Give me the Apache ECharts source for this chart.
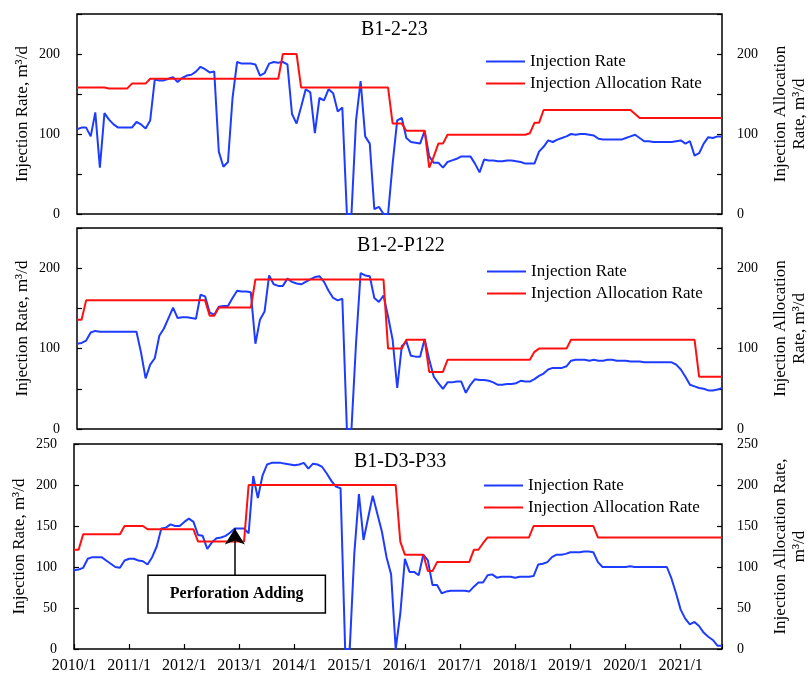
<!DOCTYPE html>
<html>
<head>
<meta charset="utf-8">
<script src="https://cdn.jsdelivr.net/npm/echarts@6/dist/echarts.min.js"></script>
<style>
html, body { margin: 0; padding: 0; background: #fff; }
#chart { width: 811px; height: 679px; }
</style>
</head>
<body>
<div id="chart"></div>
<script>
// month index 0 = 2010/1
const wellNames = ['B1-2-23', 'B1-2-P122', 'B1-D3-P33'];
const yearTicks = ['2010/1', '2011/1', '2012/1', '2013/1', '2014/1', '2015/1', '2016/1',
    '2017/1', '2018/1', '2019/1', '2020/1', '2021/1'];

// B1-2-23
const rate1 = [
    106, 108, 108, 97, 127, 58, 126, 118, 112, 108,
    108, 108, 108, 115, 112, 107, 117, 168, 167, 167,
    169, 171, 165, 170, 173, 174, 178, 184, 181, 177,
    178, 78, 59, 65, 145, 190, 188, 188, 188, 187,
    173, 176, 188, 190, 189, 190, 187, 125, 113, 134,
    156, 152, 101, 145, 142, 156, 151, 128, 133, 0,
    0, 117, 166, 97, 88, 6, 9, 0, 0, 63,
    117, 120, 95, 90, 89, 88, 104, 72, 64, 64,
    58, 65, 67, 69, 72, 72, 72, 63, 52, 68,
    67, 67, 66, 66, 67, 67, 66, 65, 63, 63,
    63, 78, 84, 92, 90, 93, 95, 97, 100, 99,
    100, 100, 99, 98, 94, 93, 93, 93, 93, 93,
    95, 97, 99, 95, 91, 91, 90, 90, 90, 90,
    90, 91, 92, 88, 91, 73, 76, 88, 96, 95,
    97, 97
];
const alloc1 = [
    158, 158, 158, 158, 158, 158, 158, 157, 157, 157,
    157, 157, 163, 163, 163, 163, 169, 169, 169, 169,
    169, 169, 169, 169, 169, 169, 169, 169, 169, 169,
    169, 169, 169, 169, 169, 169, 169, 169, 169, 169,
    169, 169, 169, 169, 169, 200, 200, 200, 200, 158,
    158, 158, 158, 158, 158, 158, 158, 158, 158, 158,
    158, 158, 158, 158, 158, 158, 158, 158, 158, 113,
    113, 113, 104, 104, 104, 104, 104, 58, 72, 88,
    88, 99, 99, 99, 99, 99, 99, 99, 99, 99,
    99, 99, 99, 99, 99, 99, 99, 99, 99, 101,
    114, 114, 130, 130, 130, 130, 130, 130, 130, 130,
    130, 130, 130, 130, 130, 130, 130, 130, 130, 130,
    130, 130, 125, 120, 120, 120, 120, 120, 120, 120,
    120, 120, 120, 120, 120, 120, 120, 120, 120, 120,
    120, 120
];

// B1-2-P122
const rate2 = [
    106, 107, 110, 120, 122, 121, 121, 121, 121, 121,
    121, 121, 121, 121, 95, 63, 80, 88, 116, 125,
    138, 151, 138, 139, 139, 138, 137, 167, 165, 145,
    142, 152, 153, 153, 163, 172, 171, 171, 170, 106,
    136, 146, 191, 180, 178, 178, 187, 183, 181, 180,
    183, 186, 189, 190, 183, 172, 163, 160, 162, 0,
    0, 107, 194, 191, 190, 163, 158, 166, 140, 111,
    51, 103, 109, 91, 90, 90, 112, 86, 65, 57,
    50, 58, 58, 59, 59, 45, 55, 62, 61, 61,
    60, 58, 55, 55, 56, 56, 57, 60, 59, 59,
    62, 66, 69, 74, 76, 76, 76, 78, 85, 86,
    86, 86, 85, 86, 85, 85, 86, 86, 85, 85,
    85, 84, 84, 84, 83, 83, 83, 83, 83, 83,
    83, 80, 74, 65, 55, 53, 51, 50, 48, 48,
    49, 51
];
const alloc2 = [
    136, 136, 160, 160, 160, 160, 160, 160, 160, 160,
    160, 160, 160, 160, 160, 160, 160, 160, 160, 160,
    160, 160, 160, 160, 160, 160, 160, 160, 160, 141,
    141, 151, 151, 151, 151, 151, 151, 151, 151, 186,
    186, 186, 186, 186, 186, 186, 186, 186, 186, 186,
    186, 186, 186, 186, 186, 186, 186, 186, 186, 186,
    186, 186, 186, 186, 186, 186, 186, 186, 100, 100,
    100, 100, 111, 111, 111, 111, 111, 71, 71, 71,
    71, 86, 86, 86, 86, 86, 86, 86, 86, 86,
    86, 86, 86, 86, 86, 86, 86, 86, 86, 86,
    96, 100, 100, 100, 100, 100, 100, 100, 111, 111,
    111, 111, 111, 111, 111, 111, 111, 111, 111, 111,
    111, 111, 111, 111, 111, 111, 111, 111, 111, 111,
    111, 111, 111, 111, 111, 111, 65, 65, 65, 65,
    65, 65
];

// B1-D3-P33
const rate3 = [
    96, 97, 99, 110, 112, 112, 112, 108, 104, 100,
    99, 108, 110, 110, 108, 107, 103, 112, 125, 147,
    148, 152, 150, 150, 155, 159, 155, 139, 138, 122,
    130, 135, 136, 138, 142, 147, 147, 147, 141, 211,
    184, 211, 225, 227, 227, 227, 226, 225, 224, 225,
    227, 220, 226, 225, 222, 214, 205, 198, 196, 0,
    0, 117, 189, 133, 160, 187, 165, 143, 112, 91,
    0, 43, 110, 94, 94, 90, 115, 108, 78, 78,
    68, 70, 71, 71, 71, 71, 70, 76, 81, 81,
    90, 91, 87, 88, 88, 88, 87, 88, 88, 88,
    89, 103, 104, 106, 112, 115, 115, 116, 118, 118,
    118, 119, 119, 118, 106, 100, 100, 100, 100, 100,
    100, 101, 100, 100, 100, 100, 100, 100, 100, 100,
    86, 68, 48, 37, 30, 33, 28, 20, 15, 11,
    4, 4
];
const alloc3 = [
    121, 121, 140, 140, 140, 140, 140, 140, 140, 140,
    140, 150, 150, 150, 150, 150, 146, 146, 146, 146,
    146, 146, 146, 146, 146, 146, 146, 131, 131, 131,
    131, 131, 131, 131, 131, 131, 131, 131, 200, 200,
    200, 200, 200, 200, 200, 200, 200, 200, 200, 200,
    200, 200, 200, 200, 200, 200, 200, 200, 200, 200,
    200, 200, 200, 200, 200, 200, 200, 200, 200, 200,
    200, 131, 115, 115, 115, 115, 115, 95, 95, 106,
    106, 106, 106, 106, 106, 106, 106, 121, 121, 129,
    136, 136, 136, 136, 136, 136, 136, 136, 136, 136,
    150, 150, 150, 150, 150, 150, 150, 150, 150, 150,
    150, 150, 150, 150, 136, 136, 136, 136, 136, 136,
    136, 136, 136, 136, 136, 136, 136, 136, 136, 136,
    136, 136, 136, 136, 136, 136, 136, 136, 136, 136,
    136, 136
];

const rateSets = [rate1, rate2, rate3];
const allocSets = [alloc1, alloc2, alloc3];
const leftNames = ['Injection Rate, m³/d', 'Injection Rate, m³/d', 'Injection Rate, m³/d'];
const rightNames = ['Injection Allocation\nRate, m³/d', 'Injection Allocation\nRate, m³/d', 'Injection Allocation Rate,\nm³/d'];

// annotation (well B1-D3-P33): box corners and arrow, in month / value units
const noteText = 'Perforation Adding';
const noteBox = [[16.1, 90], [54.7, 44]];
const noteArrow = [[35, 90], [35, 147]];

const FONT = 'Liberation Serif';
const BLUE = '#1e3cff';
const RED = '#ff1010';

const grids = [
    { left: 77, top: 14, width: 645, height: 200 },
    { left: 77, top: 228, width: 645, height: 201 },
    { left: 74, top: 444, width: 648, height: 205 }
];
const titleLeft = [361, 357, 354];
const titleTop = [20, 236, 452];
const legendPos = [[486, 53], [487, 263], [484, 477]];

const chart = echarts.init(document.getElementById('chart'));

const xAxes = [];
const yAxes = [];
const series = [];
grids.forEach((g, k) => {
    const last = k === 2;
    xAxes.push({
        type: 'value', gridIndex: k, min: 0, max: 141, interval: 12,
        axisLine: { show: false },
        axisTick: { show: last, inside: true, length: 5, lineStyle: { color: '#000', width: 1.2 } },
        axisLabel: {
            show: last, margin: 9, color: '#000', fontFamily: FONT, fontSize: 16,
            formatter: v => (v % 12 === 0 ? yearTicks[v / 12] : '')
        },
        splitLine: { show: false }
    });
    const labelFmt = last ? (v => v) : (v => (v % 100 === 0 && v < 250 ? v : ''));
    ['left', 'right'].forEach(side => {
        yAxes.push({
            type: 'value', gridIndex: k, position: side, min: 0, max: 250, interval: 50,
            name: side === 'left' ? leftNames[k] : rightNames[k],
            nameLocation: 'middle', nameRotate: 90,
            nameGap: side === 'left' ? 45 : 49,
            nameMoveOverlap: false,
            nameTextStyle: { color: '#000', fontFamily: FONT, fontSize: 17, lineHeight: 19 },
            axisLine: { show: false },
            axisTick: { show: true, inside: true, length: 5, lineStyle: { color: '#000', width: 1.2 } },
            axisLabel: { margin: side === 'left' ? 17 : 15, color: '#000', fontFamily: FONT, fontSize: 14, formatter: labelFmt },
            splitLine: { show: false }
        });
    });
    const blue = {
        name: 'Injection Rate', type: 'line', xAxisIndex: k, yAxisIndex: 2 * k,
        data: rateSets[k].map((v, i) => [i, v]),
        symbol: 'none', lineStyle: { color: BLUE, width: 2 }, itemStyle: { color: BLUE },
        z: 3
    };
    const red = {
        name: 'Injection Allocation Rate', type: 'line', xAxisIndex: k, yAxisIndex: 2 * k + 1,
        data: allocSets[k].map((v, i) => [i, v]),
        symbol: 'none', lineStyle: { color: RED, width: 2 }, itemStyle: { color: RED },
        z: 4
    };
    if (last) {
        red.markArea = {
            silent: true,
            itemStyle: { color: '#fff', borderColor: '#000', borderWidth: 1.5 },
            label: { show: true, position: 'inside', color: '#000', fontFamily: FONT, fontSize: 16, fontWeight: 'bold' },
            data: [[{ coord: noteBox[0], name: noteText }, { coord: noteBox[1] }]]
        };
        red.markLine = {
            silent: true,
            symbol: ['none', 'arrow'],
            symbolSize: [15, 16],
            label: { show: false },
            lineStyle: { color: '#000', width: 1.5, type: 'solid' },
            data: [[{ coord: noteArrow[0] }, { coord: noteArrow[1] }]]
        };
    }
    series.push(blue, red);
});

chart.setOption({
    backgroundColor: '#fff',
    animation: false,
    title: wellNames.map((t, k) => ({
        text: t, left: titleLeft[k], top: titleTop[k], padding: 0,
        textStyle: { color: '#000', fontFamily: FONT, fontSize: 20, fontWeight: 'normal' }
    })),
    legend: legendPos.map(p => ({
        data: ['Injection Rate', 'Injection Allocation Rate'],
        orient: 'vertical', left: p[0], top: p[1], padding: 0,
        icon: 'rect', itemWidth: 39, itemHeight: 2, itemGap: 5,
        textStyle: { color: '#000', fontFamily: FONT, fontSize: 17, lineHeight: 17 }
    })),
    grid: grids.map(g => Object.assign({
        show: true, borderColor: '#000', borderWidth: 1.5, outerBoundsMode: 'none'
    }, g)),
    xAxis: xAxes,
    yAxis: yAxes,
    series: series
});
</script>
</body>
</html>
